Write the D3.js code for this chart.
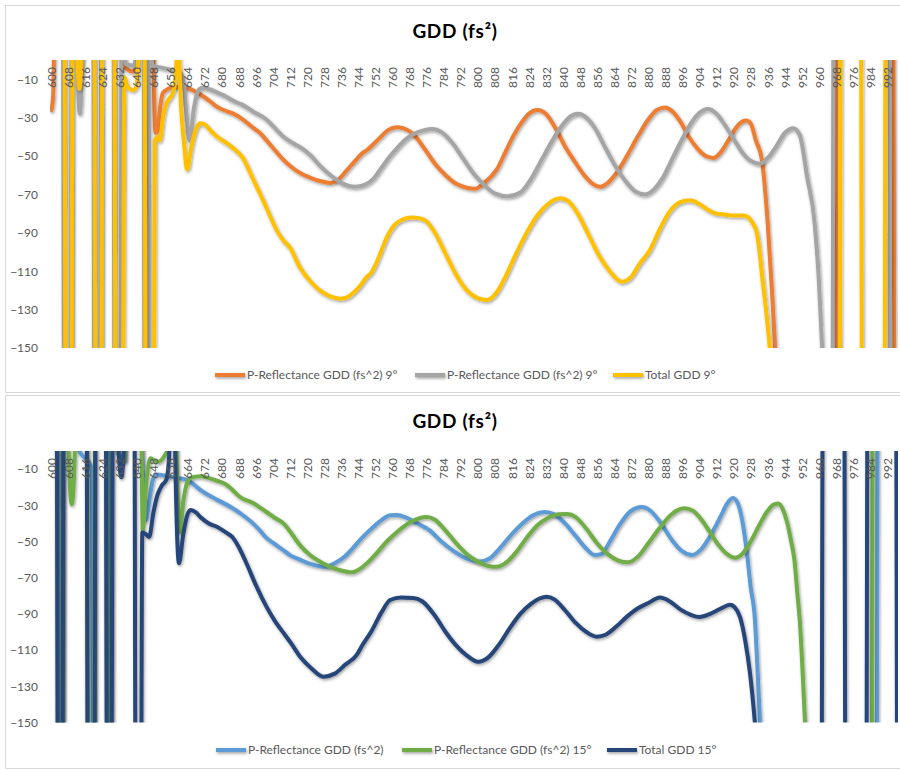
<!DOCTYPE html>
<html><head><meta charset="utf-8">
<script src="https://cdn.jsdelivr.net/npm/d3@7"></script>
<style>
body{margin:0;background:#fff;}
svg{display:block;font-family:Lato,"Open Sans",sans-serif;}
</style></head><body>
<svg id="chart" width="900" height="770"></svg>
<script>
// ---------------- DATA (wavelength nm, GDD fs^2) ----------------
// values of +60 / -250 lie outside the visible range (-150..0) and are clipped like in the original
const xTickLabels = [600,608,616,624,632,640,648,656,664,672,680,688,696,704,712,720,728,736,744,752,760,768,776,784,792,800,808,816,824,832,840,848,856,864,872,880,888,896,904,912,920,928,936,944,952,960,968,976,984,992];
const yTickLabels = [-10,-30,-50,-70,-90,-110,-130,-150];

const pRefl9a = [[600,-27],[601,-19],[602,40],[633,40],[634,-3],[636,-5],[638,-6],[640,-4],[641,40],[647,40],[648,0],[649,-38],[650,-37],[651,-26],[652.5,-17],[655,-15],[657,-14],[660,-14],[664,-14.6],[667,-16],[670,-18],[674,-21],[678,-24.5],[682,-26.5],[685,-27.7],[690,-31],[695,-35.5],[698,-38],[701,-41.8],[705,-47],[709,-52],[713,-56],[717,-59],[722,-61.5],[726,-63],[731,-64],[735,-62],[739,-57],[743,-52],[746,-48.5],[748,-47],[751,-44],[754,-40.7],[758,-36.5],[762,-35],[765,-35.5],[768,-37],[771,-40],[775,-46],[780,-54],[785,-60],[790,-64.5],[795,-66.5],[799,-67],[803,-64],[806,-61],[809,-57],[813,-48],[817,-39],[821,-32],[824,-28],[828,-26],[832,-28],[837,-36.5],[841,-45],[845,-52],[850,-60],[854,-64.5],[857.5,-66],[861,-64],[865,-59],[870,-50],[875,-40],[880,-31],[884,-26],[888,-24.8],[891,-26.5],[895,-32],[899,-40],[903,-46],[907,-50],[910.5,-51],[914,-48],[918,-41],[922,-34],[926,-31.5],[928,-33],[930.5,-42],[933.3,-52],[936,-85],[938,-120],[939.5,-150],[941,-180],[967.5,-250],[968.5,60],[994.7,60],[995.7,-250],[997,-250]];

const pRefl9b = [[600,40],[605.5,40],[606.3,-250],[609,-250],[609.8,40],[612,8],[613.5,-28],[615,8],[616.5,40],[619.8,40],[620.4,-250],[623,-250],[623.6,40],[629.3,40],[629.9,-250],[632.5,-250],[633.1,40],[635,-2],[639,-3],[642,40],[643.4,40],[644,-250],[645.6,-250],[646.2,40],[647.5,-3],[652,-4],[656,-5],[660,-6],[662,-10],[663.5,-28],[665,-42],[667,-25],[669,-16],[671,-14.5],[675,-15.5],[678,-17],[682,-19],[685,-21],[690,-23.5],[695,-27],[701,-31],[705,-35.5],[709,-40],[713,-43],[717,-45.5],[722,-50],[726,-55],[731,-60],[736,-64],[742.5,-66],[747,-65],[751,-62],[755,-56],[759,-50],[763,-45],[766,-41.5],[770,-38.5],[775,-36.5],[779,-36],[783,-37.5],[788,-43],[793,-51],[798,-59],[803,-65],[808,-69.5],[814,-71],[820,-69],[825,-62],[830,-52],[835,-42],[840,-33.5],[844,-29],[847,-28],[851,-30],[855,-35.5],[860,-46],[865,-56],[870,-64],[874,-68.5],[878.5,-70],[883,-67],[887,-61],[891,-52],[896,-41],[900,-33],[904,-27.5],[908,-25.5],[912,-28],[916,-34],[920,-41],[924,-48],[928,-52.5],[932.4,-54],[936,-51],[940,-45],[944,-38],[948,-35.5],[951,-39],[954.5,-61],[958,-85],[960,-115],[961.5,-150],[963,-180],[966.2,-250],[967,60],[992.9,60],[993.7,-250],[997,-250]];

const total9 = [[600,60],[606.2,60],[607,-250],[609.4,-250],[610.2,60],[612,8],[613.3,-15],[614.5,8],[615.5,60],[620.2,60],[621,-250],[623.4,-250],[624.2,60],[629.6,60],[630.4,-250],[633.4,-250],[634.4,-9],[636,-14],[638.4,-15.7],[640,-14],[641,5],[641.7,60],[643.7,60],[644.5,-250],[648,-250],[648.7,-42],[650,-40],[651,-42],[652.5,-30],[654,-23],[655.5,-20],[657,-17.5],[658.3,-10],[659.5,10],[661,-25],[662.5,-45],[663.8,-57],[666,-44],[668.4,-35],[670,-33],[672,-33.5],[675,-37],[678,-40],[682,-43],[685,-45.5],[690,-51],[693.3,-58.5],[696,-65],[699.4,-73],[703,-82],[706,-89],[709,-94],[712,-97.6],[716.7,-108],[721.4,-115],[725,-119],[728.5,-121.7],[732,-123.5],[735.5,-124.3],[739,-123.5],[742,-121],[745,-117.5],[748,-113],[750,-111],[752,-107],[755,-99],[758,-91],[761,-86],[765,-83],[769,-82],[773,-82.5],[776,-84],[780,-90],[785,-101],[790,-112],[795,-120],[800,-124],[804.5,-125],[809,-121],[813,-113],[818,-101],[823,-90],[828,-81],[833,-75],[838.6,-72],[842,-73],[847,-80],[852,-91],[857,-102],[862,-110],[867.7,-115.5],[872,-113],[876,-106],[880.8,-99],[885,-89],[890,-79],[895,-74],[899.6,-73],[904,-75],[908,-78],[912,-80],[916,-80.5],[920,-81],[924.4,-81],[926.3,-81.5],[929,-85],[931,-90.5],[933.8,-116.5],[935.5,-133],[937,-150],[939,-180],[969.6,-250],[970.4,60],[979.6,60],[980.4,-250],[990.6,-250],[991.4,60],[997,60]];

const pRefl15a = [[600,60],[602.9,60],[603.6,-250],[605,-250],[605.7,60],[612.3,60],[613.3,0],[616,-4],[619,-9],[620.2,-250],[626.4,-250],[627,60],[630.3,60],[631.2,-1],[632.5,-2.5],[634.5,-6],[635.5,60],[641.5,60],[642.7,0],[644.5,-38],[646.5,-24],[648,-15],[649.7,-13],[653,-13.5],[657,-14.4],[660,-15],[663.8,-16],[667,-18.5],[670,-21.5],[674,-24.5],[678,-27],[685,-31.5],[690,-35.5],[694.7,-40],[698,-44],[701,-48],[705,-51.5],[708.8,-54.7],[712,-57.5],[716.7,-60],[722,-62.5],[728.5,-64],[733,-62],[738,-58],[742,-53],[745,-49],[749.6,-43.6],[754,-39],[759,-35.5],[762,-35.4],[766,-36.5],[771,-39.5],[777.7,-44],[783,-50],[789,-55.5],[795,-59.5],[801,-61],[806,-59],[811,-53],[816,-46],[821,-40],[826,-35.5],[831.6,-33.7],[836,-35],[841,-40],[846,-47],[851,-54],[855,-57.5],[858,-57],[862,-50],[867,-40],[872,-33],[877,-31],[881,-33],[886,-40],[891,-49],[896,-55.5],[900.5,-57.5],[905,-54],[910,-45],[914,-36],[917,-29],[919.7,-26],[922,-29],[924,-38],[926.3,-56.6],[928,-75],[930,-93],[931.2,-120],[932.4,-150],[934,-180],[986.9,-250],[987.7,60],[997,60]];

const pRefl15b = [[600,60],[602.7,60],[603.5,-250],[605.1,-250],[605.9,60],[607.5,60],[608.3,0],[609.7,-29.5],[611.2,0],[612,60],[616.7,60],[617.5,-250],[620,-250],[620.8,60],[625.7,60],[626.5,-250],[628,-250],[628.8,60],[630.5,60],[631.3,-1],[633,-4],[634.5,-5],[635.5,60],[642,60],[642.5,0],[643,-44],[644.5,-20],[646.5,-4],[650,-6],[653,-3],[655,2],[655.8,60],[657.8,60],[658.8,0],[660.5,-45],[662,-28],[664,-17],[665.5,-14.8],[670,-14],[674,-15],[678,-16.5],[682.5,-18.8],[685.5,-22],[688.6,-25.4],[694.7,-28.7],[701,-33.7],[705,-37],[709,-40],[713,-46],[716.7,-52],[721,-57],[726,-61],[731,-64],[736,-66],[741,-67],[745,-65],[749,-61],[753,-56],[757,-50.5],[761,-46],[765,-42],[769,-39],[773,-37],[776,-36.5],[780,-38],[785,-44],[790,-51],[795,-57],[800,-61],[805,-63.5],[809,-64],[813,-62],[818,-56],[823,-48],[828,-41],[833,-37],[838,-35],[842,-34.8],[846,-36.5],[851,-43],[856,-51],[861,-57],[866,-60.5],[870.5,-61.5],[875,-58.5],[880,-51],[885,-43],[890,-36],[894,-32.5],[897,-31.6],[901,-33],[905,-38],[909,-45],[913,-52],[917,-57],[920.7,-59],[924,-57],[928,-50],[932,-41],[936,-33],[939,-29.5],[941,-29],[943,-32],[945,-39],[947,-50],[948.5,-60],[950,-80],[951,-93],[952.5,-125],[953.5,-150],[955,-180],[984.6,-250],[985.4,60],[997,60]];

const total15 = [[600,60],[602.6,60],[603.4,-250],[605.2,-250],[606,60],[616.6,60],[617.4,-250],[620.2,-250],[621,60],[625.6,60],[626.4,-250],[628.2,-250],[629,60],[630.5,60],[631.5,5],[633,-14.5],[634.3,5],[635,60],[639,60],[639.8,-250],[642,-250],[642.8,-45],[644.5,-46],[646,-47.5],[648,-34],[650,-24],[652,-19],[654,-16],[655.3,-5],[656.5,60],[657.5,60],[658.3,-5],[660,-62],[662,-46],[664,-35],[665.5,-32.6],[668,-34],[670,-36.5],[674,-40],[678,-42],[682,-45],[685,-47.5],[688,-53],[692,-63],[696,-74],[701,-86],[705,-94],[709,-100.5],[713,-107],[717,-114],[722,-120],[727.7,-124.7],[733,-123],[738,-118],[743.3,-112.7],[745.6,-108],[750,-100],[755,-89],[759,-82.3],[764,-81],[769.7,-81.2],[774,-83],[780,-91],[785,-100],[790,-107.5],[795,-113],[800.2,-116.4],[805,-114],[810,-107],[815,-98],[820,-90],[825,-84.5],[829,-81.5],[832.4,-80.5],[836,-82],[841,-88],[846,-95],[851,-100],[855.8,-102.6],[860,-101.5],[865,-97],[870,-91.5],[875,-87],[880,-84],[885.5,-81],[890,-83],[895,-87.5],[900,-90.5],[904,-91.7],[909,-90],[914,-87],[918.3,-85],[921,-87],[923,-91.7],[925.5,-105],[927.7,-122.7],[930,-150],[932,-180],[961.1,-250],[961.9,60],[971.8,60],[972.6,-250],[982.1,-250],[982.9,60],[996.1,60],[996.9,-250],[997,-250]];

const seriesNames9 = ["P-Reflectance GDD (fs^2) 9°","P-Reflectance GDD (fs^2) 9°","Total GDD 9°"];
const seriesNames15 = ["P-Reflectance GDD (fs^2)","P-Reflectance GDD (fs^2) 15°","Total GDD 15°"];
const chartTitle = "GDD (fs²)";

// ---------------- DRAWING ----------------
const svg = d3.select("#chart");
const defs = svg.append("defs");
const f = defs.append("filter").attr("id","shadow").attr("filterUnits","userSpaceOnUse")
  .attr("x",0).attr("y",0).attr("width",900).attr("height",770);
f.append("feDropShadow").attr("dx",1).attr("dy",1.5).attr("stdDeviation",1.5)
  .attr("flood-color","#000").attr("flood-opacity",0.38);

const x = d3.scaleLinear().domain([600, 997]).range([51, 897.8]);

function drawChart(cfg){
  const g = svg.append("g");
  g.append("rect").attr("x",5.5).attr("y",cfg.frameTop+0.5).attr("width",910).attr("height",cfg.frameH)
    .attr("fill","#fff").attr("stroke","#d9d9d9").attr("stroke-width",1);
  const y = d3.scaleLinear().domain([-150, 0]).range([cfg.yBottom, cfg.yTop]);

  g.append("text").attr("x",455).attr("y",cfg.titleY).attr("text-anchor","middle")
    .attr("font-size",19).attr("font-weight","bold").attr("letter-spacing",0.7).attr("fill","#000")
    .text(chartTitle);

  // series (drawn first so the axis labels sit on top, as in the original)
  const clipId = "clip"+cfg.id;
  defs.append("clipPath").attr("id",clipId).append("rect")
    .attr("x",50).attr("y",y(0)).attr("width",848).attr("height",y(-150)-y(0));

  const line = d3.line().x(d=>x(d[0])).y(d=>y(d[1])).curve(d3.curveMonotoneX);
  const lg = g.append("g").attr("clip-path",`url(#${clipId})`);
  cfg.series.forEach(s=>{
    lg.append("path").datum(s.data).attr("d",line).attr("fill","none")
      .attr("stroke",s.color).attr("stroke-width",4).attr("stroke-linejoin","round")
      .attr("filter","url(#shadow)");
  });

  // y axis
  const ya = g.append("g").attr("transform","translate(41,0)")
    .call(d3.axisLeft(y).tickValues(yTickLabels).tickSize(0).tickPadding(3).tickFormat(d3.format("d")));
  ya.select(".domain").remove();
  ya.selectAll("text").attr("font-size",12).attr("fill","#595959").attr("font-family","Lato, sans-serif");

  // x axis (labels hanging below y = 0 line at the top)
  const xa = g.append("g").attr("transform",`translate(0,${y(0)})`)
    .call(d3.axisBottom(x).tickValues(xTickLabels).tickSize(0).tickFormat(d3.format("d")));
  xa.select(".domain").remove();
  xa.selectAll("text").attr("transform","rotate(-90)").attr("x",-7).attr("y",0).attr("dy","0.36em")
    .attr("text-anchor","end").attr("font-size",12).attr("fill","#595959").attr("font-family","Lato, sans-serif");

  // legend
  cfg.series.forEach((s,i)=>{
    const lx = cfg.legendX[i];
    g.append("line").attr("x1",lx).attr("x2",lx+30).attr("y1",cfg.legendY).attr("y2",cfg.legendY)
      .attr("stroke",s.color).attr("stroke-width",4).attr("filter","url(#shadow)");
    g.append("text").attr("x",lx+32).attr("y",cfg.legendY).attr("dy","0.35em")
      .attr("font-size",12).attr("fill","#595959").text(s.name);
  });
}

drawChart({id:"a", frameTop:5, frameH:387, yTop:60, yBottom:348, titleY:38, legendY:375,
  legendX:[215,415,613],
  series:[{data:pRefl9a,color:"#ED7D31",name:seriesNames9[0]},
          {data:pRefl9b,color:"#A5A5A5",name:seriesNames9[1]},
          {data:total9,color:"#FFC000",name:seriesNames9[2]}]});

drawChart({id:"b", frameTop:395, frameH:373, yTop:451, yBottom:722.5, titleY:428, legendY:750,
  legendX:[216,402,607],
  series:[{data:pRefl15a,color:"#5B9BD5",name:seriesNames15[0]},
          {data:pRefl15b,color:"#70AD47",name:seriesNames15[1]},
          {data:total15,color:"#264478",name:seriesNames15[2]}]});
</script>
</body></html>
